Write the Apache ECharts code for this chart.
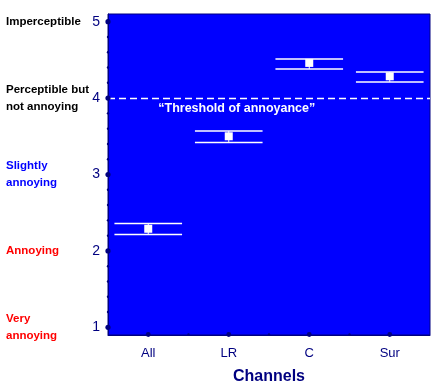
<!DOCTYPE html>
<html><head><meta charset="utf-8">
<script src="https://cdn.jsdelivr.net/npm/echarts@6/dist/echarts.min.js"></script>
<style>html,body{margin:0;padding:0;background:#fff}#c{width:439px;height:389px}</style>
</head><body><div id="c"></div>
<script>
var categories = ['All', 'LR', 'C', 'Sur'];
var means = [2.29, 3.50, 4.46, 4.285];
var lowers = [2.215, 3.42, 4.38, 4.21];
var uppers = [2.36, 3.57, 4.51, 4.34];
var yTicks = [1, 2, 3, 4, 5];
var yMinorTicks = [1.2, 1.4, 1.6, 1.8, 2.2, 2.4, 2.6, 2.8, 3.2, 3.4, 3.6, 3.8, 4.2, 4.4, 4.6, 4.8];
var scaleLabels = {
  5: ['Imperceptible'],
  4: ['Perceptible but', 'not annoying'],
  3: ['Slightly', 'annoying'],
  2: ['Annoying'],
  1: ['Very', 'annoying']
};
var scaleColors = {5: 'k', 4: 'k', 3: 'b', 2: 'r', 1: 'r'};
var threshold = 4;
var thresholdLabel = '\u201cThreshold of annoyance\u201d';

var navy = '#000080';
var data = categories.map(function (c, i) { return [i, means[i], lowers[i], uppers[i]]; });
var lbl = {fontSize: 11.5, fontWeight: 'bold', fontFamily: 'Liberation Sans', lineHeight: 17};

var chart = echarts.init(document.getElementById('c'));
chart.setOption({
  animation: false,
  grid: {left: 108, right: 9, top: 14, bottom: 54, show: true, backgroundColor: '#0000ff', borderColor: navy, borderWidth: 1, outerBoundsMode: 'none', containLabel: false},
  xAxis: [{
    type: 'category', data: categories, z: 10,
    axisLine: {lineStyle: {color: navy, width: 1}},
    axisTick: {show: false},
    axisLabel: {color: navy, fontSize: 13, fontFamily: 'Liberation Sans', margin: 12},
    name: 'Channels', nameLocation: 'middle', nameGap: 34,
    nameTextStyle: {color: navy, fontSize: 16, fontWeight: 'bold', fontFamily: 'Liberation Sans'}
  }],
  yAxis: [{
    type: 'value', min: 0.9, max: 5.1, z: 10,
    splitLine: {show: false},
    axisLine: {show: true, lineStyle: {color: navy, width: 1}},
    axisTick: {show: false},
    axisLabel: {customValues: yTicks, color: navy, fontSize: 14, fontFamily: 'Liberation Sans', margin: 8}
  }, {
    type: 'value', min: 0.9, max: 5.1, position: 'left',
    splitLine: {show: false},
    axisLine: {show: false},
    axisTick: {show: false},
    axisLabel: {
      customValues: yTicks, align: 'left', margin: 102,
      formatter: function (v) {
        var k = scaleColors[v];
        return (scaleLabels[v] || []).map(function (t) { return '{' + k + '|' + t + '}'; }).join('\n');
      },
      rich: {
        k: Object.assign({color: '#000000'}, lbl),
        b: Object.assign({color: '#0000ff'}, lbl),
        r: Object.assign({color: '#ff0000'}, lbl)
      }
    }
  }],
  series: [{
    type: 'custom',
    xAxisIndex: 0, yAxisIndex: 0,
    data: data,
    encode: {x: 0, y: [1, 2, 3]},
    renderItem: function (params, api) {
      var c = api.coord([api.value(0), api.value(1)]);
      var lo = api.coord([api.value(0), api.value(2)]);
      var hi = api.coord([api.value(0), api.value(3)]);
      var half = api.size([1, 0])[0] * 0.42;
      var st = {stroke: '#ffffff', lineWidth: 1.5};
      return {
        type: 'group',
        children: [
          {type: 'line', shape: {x1: c[0] - half, y1: lo[1], x2: c[0] + half, y2: lo[1]}, style: st},
          {type: 'line', shape: {x1: c[0] - half, y1: hi[1], x2: c[0] + half, y2: hi[1]}, style: st},
          {type: 'line', shape: {x1: c[0], y1: lo[1], x2: c[0], y2: hi[1]}, style: {stroke: '#ffffff', lineWidth: 1}},
          {type: 'rect', shape: {x: c[0] - 4, y: c[1] - 4, width: 8, height: 8}, style: {fill: '#ffffff'}}
        ]
      };
    },
    markLine: {
      silent: true, symbol: 'none',
      lineStyle: {color: '#ffffff', type: [7, 4], width: 1.3},
      label: {show: false},
      data: [{yAxis: threshold}]
    }
  }]
});

// axis tick dots placed through the axes' own scales
var g = [];
var x0 = chart.convertToPixel({xAxisIndex: 0, yAxisIndex: 0}, [0, 0.9]);
var axisX = 108, axisY = x0[1];
yTicks.forEach(function (v) {
  var py = chart.convertToPixel({yAxisIndex: 0}, v);
  g.push({type: 'circle', z: 100, shape: {cx: axisX, cy: py, r: 2.6}, style: {fill: navy}});
});
yMinorTicks.forEach(function (v) {
  var py = chart.convertToPixel({yAxisIndex: 0}, v);
  g.push({type: 'circle', z: 100, shape: {cx: axisX, cy: py, r: 1.2}, style: {fill: navy}});
});
categories.forEach(function (c, i) {
  var px = chart.convertToPixel({xAxisIndex: 0}, i);
  g.push({type: 'circle', z: 100, shape: {cx: px, cy: axisY - 0.5, r: 2.4}, style: {fill: navy}});
  if (i > 0) {
    var prev = chart.convertToPixel({xAxisIndex: 0}, i - 1);
    g.push({type: 'circle', z: 100, shape: {cx: (px + prev) / 2, cy: axisY - 0.5, r: 1.2}, style: {fill: navy}});
  }
});
var p = chart.convertToPixel({xAxisIndex: 0, yAxisIndex: 0}, [1, threshold]);
g.push({
  type: 'text', z: 100, x: p[0] + 8, y: p[1] + 10,
  style: {text: thresholdLabel, fill: '#ffffff', fontSize: 12.5, fontWeight: 'bold', fontFamily: 'Liberation Sans', align: 'center', verticalAlign: 'middle'}
});
chart.setOption({graphic: g});
</script></body></html>
